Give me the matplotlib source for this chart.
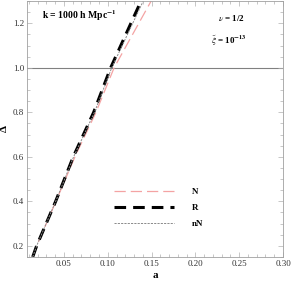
import matplotlib
matplotlib.use("Agg")
import matplotlib.pyplot as plt
from matplotlib.ticker import MultipleLocator

plt.rcParams['font.family'] = ['Liberation Serif', 'DejaVu Serif']
plt.rcParams['mathtext.fontset'] = 'stix'

# Data
a_R = [0.0143, 0.0188, 0.0405, 0.0606, 0.0839, 0.1033, 0.1380]
d_R = [0.15, 0.20, 0.40, 0.60, 0.80, 1.00, 1.30]
a_N = [0.0143, 0.0188, 0.0408, 0.0625, 0.0865, 0.1072, 0.1495]
d_N = [0.15, 0.20, 0.40, 0.60, 0.80, 1.00, 1.30]
a_nN = [0.0143, 0.0188, 0.0406, 0.0610, 0.0848, 0.1045, 0.1405]
d_nN = [0.15, 0.20, 0.40, 0.60, 0.80, 1.00, 1.30]
xticks = [0.05, 0.10, 0.15, 0.20, 0.25, 0.30]
yticks = [0.2, 0.4, 0.6, 0.8, 1.0, 1.2]

fig = plt.figure(figsize=(2.91, 2.83), dpi=100)
ax = fig.add_axes([27/291, 1-257/283, 256/291, 256/283])

ax.axhline(1.0, color='#808080', lw=0.8, zorder=1)
lN, = ax.plot(a_N, d_N, color='#f4a3a3', lw=0.9, dashes=(9, 4), label='N')
lR, = ax.plot(a_R, d_R, color='black', lw=2.2, dashes=(3.8, 2.3), label='R')
lnN, = ax.plot(a_nN, d_nN, color='#8a8a8a', lw=0.7, dashes=(2.2, 1.2), label='nN')

ax.set_xlim(0.0078, 0.30)
ax.set_ylim(0.15, 1.30)
ax.set_xticks(xticks)
ax.set_xticklabels([f"{v:.2f}" for v in xticks])
ax.set_yticks(yticks)
ax.set_yticklabels([f"{v:.1f}" for v in yticks])
ax.xaxis.set_minor_locator(MultipleLocator(0.01))
ax.yaxis.set_minor_locator(MultipleLocator(0.05))
ax.tick_params(which='both', direction='in', top=True, right=True,
               labelsize=6.5, color='#b0b0b0', labelcolor='#333333', width=0.5, pad=2)
ax.tick_params(which='major', length=3.5)
ax.tick_params(which='minor', length=2)
for s in ax.spines.values():
    s.set_color('#a0a0a0')
    s.set_linewidth(0.6)

ax.set_xlabel('a', fontsize=8, fontweight='bold', labelpad=2)
ax.set_ylabel('Δ', fontsize=8, fontweight='bold', labelpad=3)

ax.text(0.025, 1.233, r'$\mathbf{k}$ = 1000 h Mpc$^{\mathbf{-1}}$', fontsize=7, fontweight='bold', ha='left', va='center')
ax.text(0.2407, 1.2236, r'$\mathit{\nu}$ = 1/2', fontsize=6.5, fontweight='bold', ha='center', va='center')
ax.text(0.2384, 1.12, r'$\tilde{\xi}$ = 10$^{\mathbf{-13}}$', fontsize=6.5, fontweight='bold', ha='center', va='center')

leg = ax.legend(handles=[lN, lR, lnN], loc='lower left', bbox_to_anchor=(0.31, 0.08),
                frameon=False, handlelength=6.6, handletextpad=2.0,
                labelspacing=0.85, prop={'weight': 'bold', 'size': 6.5})

fig.savefig('out.png', dpi=100)
